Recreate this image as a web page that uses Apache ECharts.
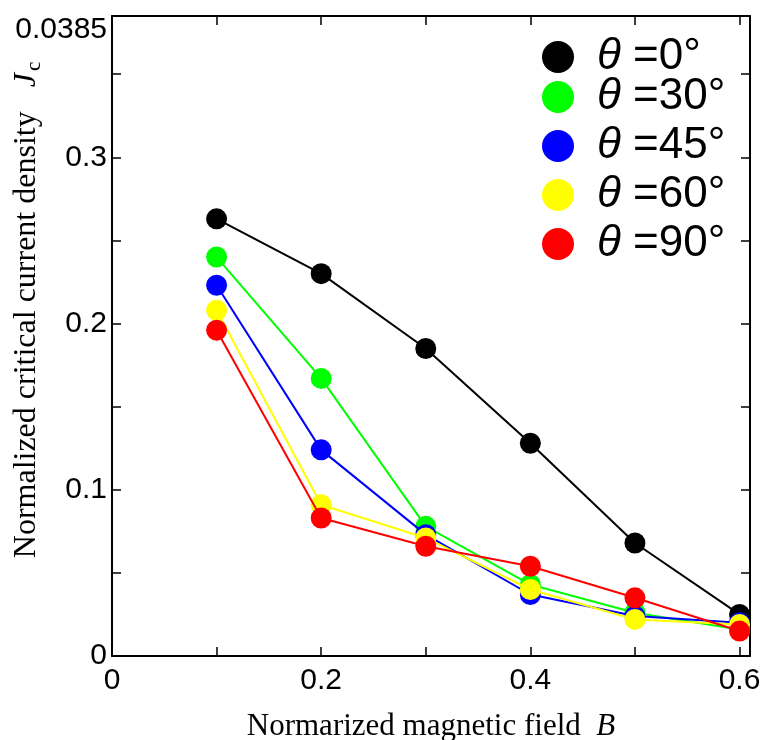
<!DOCTYPE html>
<html>
<head>
<meta charset="utf-8">
<script src="https://cdn.jsdelivr.net/npm/echarts@6/dist/echarts.min.js"></script>
<style>
html,body{margin:0;padding:0;background:#fff;}
#chart{width:764px;height:740px;}
</style>
</head>
<body>
<div id="chart"></div>
<script>
// ---- data ----
const fieldB = [0.1, 0.2, 0.3, 0.4, 0.5, 0.6];
const seriesNames = ['θ =0°', 'θ =30°', 'θ =45°', 'θ =60°', 'θ =90°'];
const theta0  = [0.263, 0.230, 0.185, 0.128, 0.068, 0.025];
const theta30 = [0.240, 0.167, 0.078, 0.043, 0.026, 0.016];
const theta45 = [0.223, 0.124, 0.073, 0.037, 0.024, 0.020];
const theta60 = [0.208, 0.091, 0.071, 0.040, 0.022, 0.019];
const theta90 = [0.196, 0.083, 0.066, 0.054, 0.035, 0.015];
const seriesColors = ['#000000', '#00ff00', '#0000ff', '#ffff00', '#ff0000'];
const xTickValues = [0, 0.2, 0.4, 0.6];
const xTickLabels = ['0', '0.2', '0.4', '0.6'];
const yTickValues = [0, 0.1, 0.2, 0.3, 0.385];
const yTickLabels = ['0', '0.1', '0.2', '0.3', '0.0385'];

const allSeries = [theta0, theta30, theta45, theta60, theta90];
const sansFont = "'Liberation Sans', Arial, sans-serif";
const serifFont = "'Liberation Serif', 'Times New Roman', serif";

function findLabel(v, vals, labels) {
  for (let i = 0; i < vals.length; i++) {
    if (Math.abs(v - vals[i]) < 1e-6) return labels[i];
  }
  return '';
}

const chart = echarts.init(document.getElementById('chart'), null, {renderer: 'canvas'});

const legendText = {
  color: '#000',
  fontFamily: sansFont,
  rich: {
    t: {fontSize: 44, fontStyle: 'italic', fontFamily: sansFont, lineHeight: 40, padding: [0, 0, 0, 18], color: '#000'},
    s: {fontSize: 44, fontFamily: sansFont, lineHeight: 40, color: '#000'}
  }
};
function legendFmt(name) {
  return '{t|' + name.slice(0, 1) + '}{s|' + name.slice(1) + '}';
}

const option = {
  animation: false,
  backgroundColor: '#fff',
  grid: {left: 112, right: 14, top: 16, bottom: 84, containLabel: false, outerBoundsMode: 'none'},
  legend: [
    {
      data: [seriesNames[0]],
      left: 542, top: 35, orient: 'vertical', padding: 0,
      icon: 'circle', itemWidth: 32, itemHeight: 32, itemGap: 5,
      formatter: legendFmt, textStyle: legendText
    },
    {
      data: seriesNames.slice(1),
      left: 542, top: 75, orient: 'vertical', padding: 0,
      icon: 'circle', itemWidth: 32, itemHeight: 32, itemGap: 5,
      formatter: legendFmt, textStyle: legendText
    }
  ],
  xAxis: [
    {
      type: 'value', min: 0, max: 0.61, interval: 0.1,
      position: 'bottom',
      name: '{n|Normarized magnetic field  }{b|B}',
      nameLocation: 'middle', nameGap: 55,
      nameTextStyle: {
        rich: {
          n: {fontFamily: serifFont, fontSize: 31, color: '#000'},
          b: {fontFamily: serifFont, fontSize: 31, fontStyle: 'italic', color: '#000'}
        }
      },
      axisLine: {show: true, onZero: false, lineStyle: {color: '#000', width: 2}},
      axisTick: {show: true, inside: true, length: 9, lineStyle: {color: '#000', width: 1.5}},
      axisLabel: {
        show: true, margin: 10, color: '#000', fontFamily: sansFont, fontSize: 30,
        showMaxLabel: true,
        formatter: v => findLabel(v, xTickValues, xTickLabels)
      },
      splitLine: {show: false}
    },
    {
      type: 'value', min: 0, max: 0.61, interval: 0.1,
      position: 'top',
      axisLine: {show: true, onZero: false, lineStyle: {color: '#000', width: 2}},
      axisTick: {show: true, inside: true, length: 9, lineStyle: {color: '#000', width: 1.5}},
      axisLabel: {show: false},
      splitLine: {show: false}
    }
  ],
  yAxis: [
    {
      type: 'value', min: 0, max: 0.385, interval: 0.05,
      position: 'left',
      axisLine: {show: true, onZero: false, lineStyle: {color: '#000', width: 2}},
      axisTick: {show: true, inside: true, length: 9, lineStyle: {color: '#000', width: 1.5}},
      axisLabel: {
        show: true, margin: 5, color: '#000', fontFamily: sansFont, fontSize: 30,
        showMaxLabel: true,
        formatter: function (v) {
          const s = findLabel(v, yTickValues, yTickLabels);
          if (v > 0.35 && s) return '{top|' + s + '}';
          return s;
        },
        rich: {
          top: {fontFamily: sansFont, fontSize: 30, color: '#000', padding: [28, 0, 0, 0]}
        }
      },
      splitLine: {show: false}
    },
    {
      type: 'value', min: 0, max: 0.385, interval: 0.05,
      position: 'right',
      axisLine: {show: true, onZero: false, lineStyle: {color: '#000', width: 2}},
      axisTick: {show: true, inside: true, length: 9, lineStyle: {color: '#000', width: 1.5}},
      axisLabel: {show: false},
      splitLine: {show: false}
    }
  ],
  graphic: [
    {
      type: 'text',
      x: 27, y: 310,
      rotation: Math.PI / 2,
      style: {
        text: '{n|Normalized critical current density   }{j|J}{c|c}',
        align: 'center', verticalAlign: 'middle',
        rich: {
          n: {fontFamily: serifFont, fontSize: 32, fill: '#000', lineHeight: 36},
          j: {fontFamily: serifFont, fontSize: 32, fontStyle: 'italic', fill: '#000', lineHeight: 36},
          c: {fontFamily: serifFont, fontSize: 21, fill: '#000', verticalAlign: 'bottom', lineHeight: 36, padding: [14, 0, 0, 2]}
        }
      }
    }
  ],
  series: allSeries.map((arr, i) => ({
    name: seriesNames[i],
    type: 'line',
    xAxisIndex: 0, yAxisIndex: 0,
    data: fieldB.map((x, k) => [x, arr[k]]),
    symbol: 'circle',
    symbolSize: 21,
    lineStyle: {color: seriesColors[i], width: 2},
    itemStyle: {color: seriesColors[i], borderWidth: 0},
    z: 2 + i
  }))
};

chart.setOption(option);
</script>
</body>
</html>
